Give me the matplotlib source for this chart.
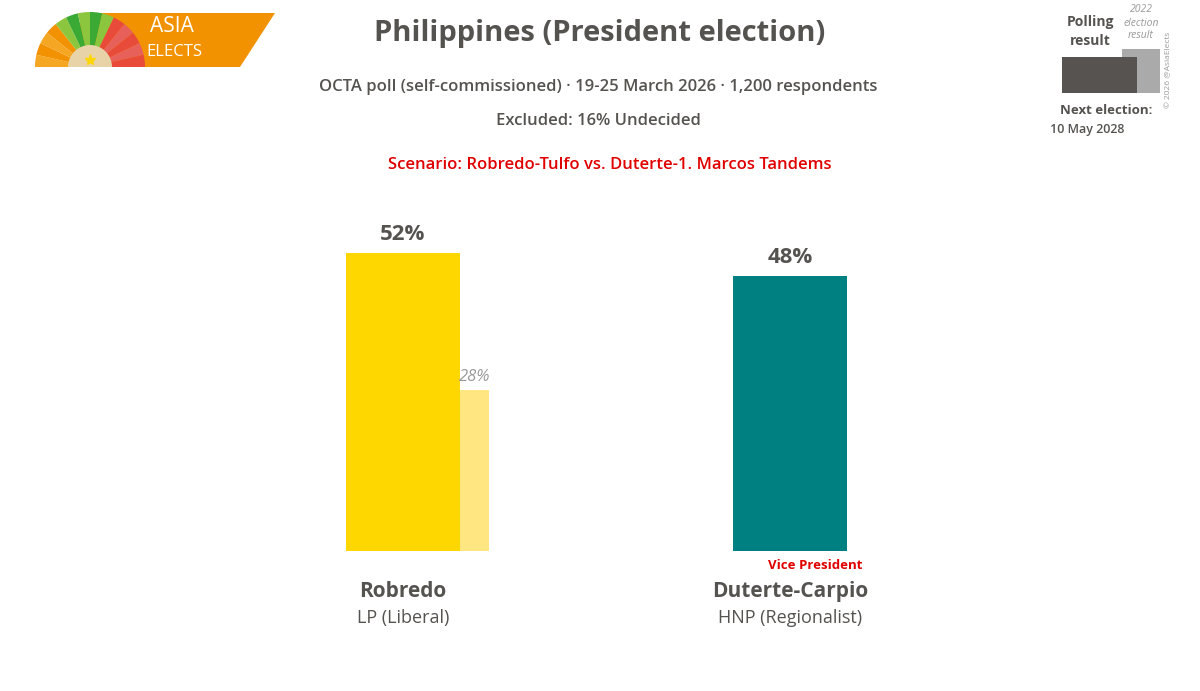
import matplotlib
matplotlib.use("Agg")
import matplotlib.pyplot as plt
import numpy as np
from matplotlib.patches import Wedge, Polygon, Rectangle

candidates = ["Robredo", "Duterte-Carpio"]
parties = ["LP (Liberal)", "HNP (Regionalist)"]
poll = [52, 48]
prev = [28, None]
poll_colors = ["#FFD700", "#008080"]
prev_colors = ["#FFE680", None]
notes = ["", "Vice President"]

title = "Philippines (President election)"
sub1 = "OCTA poll (self-commissioned) · 19-25 March 2026 · 1,200 respondents"
sub2 = "Excluded: 16% Undecided"
scen = "Scenario: Robredo-Tulfo vs. Duterte-1. Marcos Tandems"

W, H = 1200, 691
fig = plt.figure(figsize=(12, 6.91), dpi=100)
fig.patch.set_facecolor("white")
FONT = "Open Sans"
DARK = "#555350"

def fx(px): return px / W
def fy(py): return 1 - py / H

# main axes
ax = fig.add_axes([0, fy(551), 1, (551 - 207) / H])
ax.set_xlim(-403 / 387, (1200 - 403) / 387)
ax.set_ylim(0, 60)
ax.axis("off")
bw = 114 / 387
pw = 29 / 387
x = np.arange(len(candidates))
ax.bar(x, poll, width=bw, color=poll_colors, zorder=2)
for i in range(len(candidates)):
    ax.text(x[i], poll[i] + 1.3, f"{poll[i]}%", ha="center", va="bottom",
            fontsize=16, fontweight="bold", color=DARK, family=FONT)
    if prev[i] is not None:
        ax.bar(x[i] + bw / 2 + pw / 2, prev[i], width=pw, color=prev_colors[i], zorder=1)
        ax.text(x[i] + bw / 2 + pw / 2, prev[i] + 0.9, f"{prev[i]}%", ha="center", va="bottom",
                fontsize=12, style="italic", color="#999999", family=FONT)
    ax.text(x[i], -7.0, candidates[i], ha="center", va="center", fontsize=15,
            fontweight="bold", color=DARK, family=FONT)
    ax.text(x[i], -11.6, parties[i], ha="center", va="center", fontsize=13,
            color=DARK, family=FONT)
    if notes[i]:
        ax.text(x[i] + bw / 2 + 0.04, -2.5, notes[i], ha="right", va="center",
                fontsize=9.5, fontweight="bold", color="#e00000", family=FONT)

# Titles
fig.text(fx(600), fy(33), title, ha="center", va="center", fontsize=21,
         fontweight="bold", color=DARK, family=FONT)
fig.text(fx(598), fy(87), sub1, ha="center", va="center", fontsize=12,
         color=DARK, family=FONT, fontweight="semibold")
fig.text(fx(598), fy(121), sub2, ha="center", va="center", fontsize=12,
         color=DARK, family=FONT, fontweight="semibold")
fig.text(fx(610), fy(165), scen, ha="center", va="center", fontsize=12,
         color="#e00000", family=FONT, fontweight="semibold")

# Logo
lax = fig.add_axes([0, fy(80), fx(300), 80 / H])
lax.set_xlim(0, 300)
lax.set_ylim(80, 0)
lax.axis("off")
lax.add_patch(Polygon([[80, 13], [275, 13], [240, 67], [80, 67]], closed=True,
                      color="#F39200", lw=0))
cx, cy, r = 90, 67, 55
fan = ["#F5A623", "#F39200", "#F5A623", "#F39200", "#8CC63F", "#3AAA35", "#8CC63F",
       "#3AAA35", "#8CC63F", "#E84B3A", "#E8605A", "#E84B3A", "#E8605A", "#E84B3A"]
n = len(fan)
for k, c in enumerate(fan):
    t1 = 180 - k * 180 / n
    t2 = 180 - (k + 1) * 180 / n
    lax.add_patch(Wedge((cx, cy), r, -t1, -t2, color=c, lw=0))
lax.add_patch(Wedge((cx, cy), 22, 180, 360, color="#E8D3A8", lw=0))
lax.plot([cx], [cy - 7], marker="*", color="#FFD700", ms=8)
lax.text(172, 27, "ASIA", ha="center", va="center", color="white", fontsize=15,
         family=FONT)
lax.text(174, 52, "ELECTS", ha="center", va="center", color="white", fontsize=12,
         family=FONT)

# Legend top-right
gax = fig.add_axes([fx(1040), fy(150), fx(160), 150 / H])
gax.set_xlim(1040, 1200)
gax.set_ylim(150, 0)
gax.axis("off")
gax.add_patch(Rectangle((1122, 49), 38, 44, color="#AAAAAA", lw=0))
gax.add_patch(Rectangle((1062, 57), 75, 36, color="#575350", lw=0))
gax.text(1090, 22, "Polling", ha="center", va="center", fontsize=10, fontweight="bold",
         color=DARK, family=FONT)
gax.text(1090, 41, "result", ha="center", va="center", fontsize=10, fontweight="bold",
         color=DARK, family=FONT)
for yy, s in zip([10, 23, 36], ["2022", "election", "result"]):
    gax.text(1141, yy, s, ha="center", va="center", fontsize=7.5, style="italic",
             color="#999999", family=FONT)
gax.text(1169, 70, "© 2026 @AsiaElects", ha="center", va="center", rotation=90,
         fontsize=6, color="#999999", family=FONT)
gax.text(1106, 110, "Next election:", ha="center", va="center", fontsize=9.5,
         fontweight="bold", color=DARK, family=FONT)
gax.text(1087, 129, "10 May 2028", ha="center", va="center", fontsize=9,
         fontweight="semibold", color=DARK, family=FONT)

fig.savefig("out.png", dpi=100)
